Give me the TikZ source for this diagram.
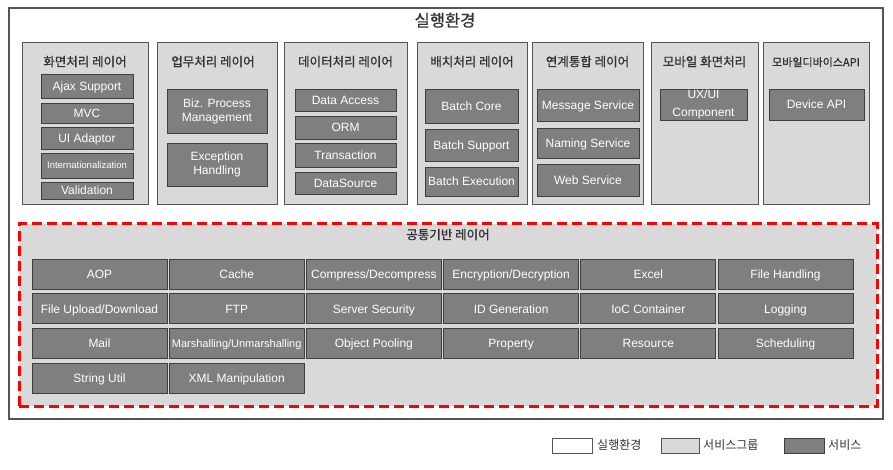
\documentclass[tikz,border=0pt]{standalone}
\usepackage{fontspec}
\setmainfont{Liberation Sans}
\newfontfamily\kr{Noto Sans CJK KR}
\newfontfamily\krhead[FakeBold=0.7]{Noto Sans CJK KR}
\definecolor{frameline}{HTML}{555555}
\definecolor{groupfill}{HTML}{D9D9D9}
\definecolor{svcfill}{HTML}{7F7F7F}
\definecolor{svcline}{HTML}{3F3F3F}
\definecolor{headtext}{HTML}{333333}
\definecolor{dashred}{HTML}{FF0000}
\tikzset{
  envbox/.style={draw=frameline, line width=1.3pt, fill=white},
  groupbox/.style={draw=frameline, line width=0.9pt, fill=groupfill},
  svcbase/.style={draw=svcline, line width=0.9pt, fill=svcfill, text=white,
    inner sep=0pt, align=center, font=\fontsize{12}{14}\selectfont},
  svc/.style={svcbase, text height=8.6pt, text depth=0pt},
  svctwo/.style={svcbase},
  grouphead/.style={text=headtext, inner sep=0pt, text height=9.5pt, text depth=1pt,
    font=\krhead\fontsize{12.5}{14}\selectfont},
  commonbox/.style={draw=dashred, line width=3pt, dash pattern=on 10pt off 5pt, fill=groupfill},
  legendtext/.style={anchor=west, inner sep=0pt, text=headtext, text height=9pt, text depth=1pt,
    font=\kr\fontsize{12}{13}\selectfont}
}
% box from corner (x1,y1) to (x2,y2): name, style, x1, y1, x2, y2, text
\newcommand\cornerbox[7]{%
  \node[#2, minimum width={(#5-#3)*1pt}, minimum height={(#6-#4)*1pt}]
    (#1) at ({(#3+#5)/2},{(#4+#6)/2}) {#7};}
\begin{document}
\begin{tikzpicture}[x=1pt, y=-1pt]
\useasboundingbox (0,0) rectangle (893,470);

% execution environment
\cornerbox{env}{envbox}{9}{8}{883}{419}{}
\node[text=headtext, inner sep=0pt, text height=12pt, text depth=1pt,
  font=\krhead\fontsize{16.5}{18}\selectfont] (envtitle) at (445,21) {실행환경};

% service groups
\cornerbox{g1}{groupbox}{22}{42}{148}{204}{}
\cornerbox{g2}{groupbox}{157}{42}{277}{204}{}
\cornerbox{g3}{groupbox}{284}{42}{407}{204}{}
\cornerbox{g4}{groupbox}{417}{42}{527}{204}{}
\cornerbox{g5}{groupbox}{532}{42}{643}{204}{}
\cornerbox{g6}{groupbox}{651}{42}{758}{204}{}
\cornerbox{g7}{groupbox}{763}{42}{869}{204}{}

\node[grouphead] (h1) at (85,62) {화면처리 레이어};
\node[grouphead] (h2) at (213,62) {업무처리 레이어};
\node[grouphead] (h3) at (345.5,62) {데이터처리 레이어};
\node[grouphead] (h4) at (472,62) {배치처리 레이어};
\node[grouphead] (h5) at (587.5,62) {연계통합 레이어};
\node[grouphead] (h6) at (704.5,62) {모바일 화면처리};
\node[grouphead, font=\krhead\fontsize{11}{12}\selectfont] (h7) at (816,62) {모바일디바이스API};

% presentation layer
\cornerbox{ajax}{svc}{41}{74}{133}{98}{Ajax Support}
\cornerbox{mvc}{svc}{41}{103}{133}{123}{MVC}
\cornerbox{uiad}{svc}{41}{127}{133}{149}{UI Adaptor}
\cornerbox{i18n}{svc, font=\fontsize{9.5}{11}\selectfont, text height=6.8pt}{41}{153}{133}{178}{Internationalization}
\cornerbox{valid}{svc}{41}{182}{133}{199}{Validation}

% business layer
\cornerbox{bpm}{svctwo}{167}{89}{267}{133}{Biz. Process\\Management}
\cornerbox{exc}{svctwo}{167}{143}{267}{186}{Exception\\Handling}

% data layer
\cornerbox{dacc}{svc}{295}{89}{396}{111}{Data Access}
\cornerbox{orm}{svc}{295}{116}{396}{139}{ORM}
\cornerbox{trx}{svc}{295}{143}{396}{167}{Transaction}
\cornerbox{dsrc}{svc}{295}{172}{396}{194}{DataSource}

% batch layer
\cornerbox{bcore}{svc}{425}{89}{518}{123}{Batch Core}
\cornerbox{bsup}{svc}{425}{129}{518}{161}{Batch Support}
\cornerbox{bexe}{svc}{425}{167}{518}{196}{Batch Execution}

% integration layer
\cornerbox{msg}{svc}{537}{89}{639}{121}{Message Service}
\cornerbox{nam}{svc}{537}{128}{639}{158}{Naming Service}
\cornerbox{web}{svc}{537}{164}{639}{196}{Web Service}

% mobile
\cornerbox{uxui}{svctwo, font=\fontsize{12}{18.5}\selectfont}{660}{89}{747}{120}{UX/UI\\Component}
\cornerbox{dapi}{svc}{769}{89}{864}{120}{Device API}

% common foundation layer
\cornerbox{common}{commonbox}{19}{224}{877}{406}{}
\node[grouphead] (commonhead) at (448,235) {공통기반 레이어};

\foreach \name/\col/\row/\txt in {
  aop/0/0/AOP, cache/1/0/Cache, comp/2/0/Compress\slash Decompress,
  enc/3/0/Encryption\slash Decryption, excel/4/0/Excel, fileh/5/0/File Handling,
  fupd/0/1/File Upload\slash Download, ftp/1/1/FTP, ssec/2/1/Server Security,
  idg/3/1/ID Generation, ioc/4/1/IoC Container, logg/5/1/Logging,
  mail/0/2/Mail, objp/2/2/Object Pooling,
  prop/3/2/Property, res/4/2/Resource, sched/5/2/Scheduling,
  stru/0/3/String Util, xmlm/1/3/XML Manipulation}{
  \node[svc, minimum width=135pt, minimum height=30pt]
    (\name) at ({99.5+137.2*\col},{274+34.7*\row}) {\txt};
}
\node[svc, minimum width=135pt, minimum height=30pt, font=\fontsize{11}{13}\selectfont,
  text height=7.9pt]
  (marsh) at ({99.5+137.2},{274+34.7*2}) {Marshalling/Unmarshalling};

% legend
\cornerbox{legenv}{draw=frameline, line width=0.8pt, fill=white}{552}{438}{592}{453}{}
\node[legendtext] (legenvt) at (597,445.5) {실행환경};
\cornerbox{leggrp}{draw=frameline, line width=0.8pt, fill=groupfill}{661}{438}{699}{453}{}
\node[legendtext] (leggrpt) at (703,445.5) {서비스그룹};
\cornerbox{legsvc}{draw=svcline, line width=0.8pt, fill=svcfill}{784}{438}{824}{453}{}
\node[legendtext] (legsvct) at (828,445.5) {서비스};
\end{tikzpicture}
\end{document}
